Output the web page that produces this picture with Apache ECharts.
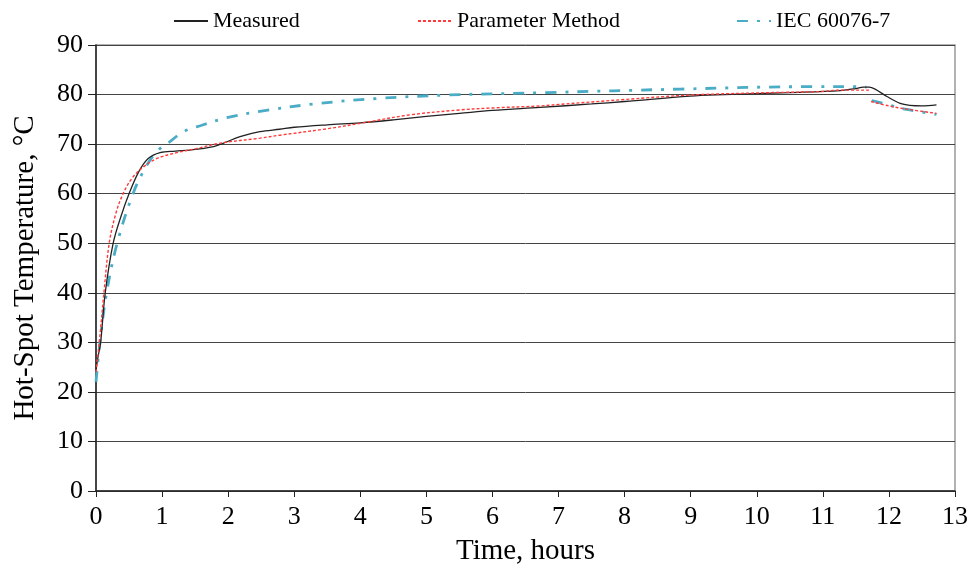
<!DOCTYPE html>
<html>
<head>
<meta charset="utf-8">
<script src="https://cdn.jsdelivr.net/npm/echarts@6/dist/echarts.min.js"></script>
<style>
  html, body { margin: 0; padding: 0; background: #fff; }
  #myChart { width: 972px; height: 571px; }
</style>
</head>
<body>
<div id="myChart"></div>
<script>
// values (hours, °C); '-' breaks the line
const measuredHours = [0, 0.03, 0.07, 0.14, 0.26, 0.38, 0.5, 0.65, 0.79, 0.97, 1.2, 1.42, 1.78, 1.93, 2.18, 2.48, 2.78, 3.0, 3.5, 4.0, 4.5, 5.0, 5.5, 6.0, 6.72, 7.5, 8.0, 8.99, 9.5, 10.0, 10.5, 11.26, 11.5, 11.61, 11.7, 11.79, 11.97, 12.17, 12.32, 12.5, 12.72]
const measuredTemp = [24.4, 27, 30, 40, 50, 55.5, 60, 64.5, 67.1, 68.3, 68.6, 68.8, 69.5, 70.2, 71.5, 72.5, 73.0, 73.4, 73.9, 74.3, 74.9, 75.6, 76.2, 76.8, 77.4, 78.1, 78.6, 79.7, 80.0, 80.2, 80.4, 80.8, 81.2, 81.5, 81.5, 81.1, 79.6, 78.2, 77.8, 77.7, 77.9]

const paramHours = [0, 0.05, 0.12, 0.2, 0.3, 0.41, 0.55, 0.72, 0.92, 1.2, 1.52, 1.88, 2.48, 2.78, 3.5, 4.0, 4.75, 5.51, 6.0, 6.72, 7.0, 8.0, 8.99, 10.25, 10.96, 11.26, 11.71, 11.72, 11.73, 12.0, 12.3, 12.72]
const paramTemp = [24, 30, 40, 50, 56, 60, 63.2, 65.4, 67.1, 68.2, 69.1, 70.2, 71.2, 71.8, 73.1, 74.2, 75.9, 76.9, 77.3, 77.7, 78.0, 79.0, 79.9, 80.4, 80.6, 80.9, 80.9, '-', 78.6, 77.7, 77.0, 76.2]

const iecHours = [0, 0.06, 0.16, 0.32, 0.56, 0.75, 0.92, 1.12, 1.32, 1.6, 2.0, 2.53, 3.29, 4.25, 5.31, 6.82, 8.84, 10.86, 11.41, 11.66, 11.7, 11.74, 12.0, 12.27, 12.72]
const iecTemp = [22, 30, 40, 50, 60, 65.3, 68.5, 70.5, 72.5, 73.8, 75.4, 76.7, 78.1, 79.2, 79.9, 80.4, 81.1, 81.6, 81.6, 81.5, '-', 78.8, 77.9, 77.0, 76.0]

const pairs = (xs, ys) => xs.map((x, i) => [x, ys[i]])

const font = 'Liberation Serif'

const option = {
  animation: false,
  backgroundColor: '#fff',
  legend: [
    { data: ['Measured'], left: 168, top: 5 },
    { data: ['Parameter Method'], left: 412, top: 5 },
    { data: ['IEC 60076-7'], left: 731, top: 5 }
  ].map(l => Object.assign(l, {
    itemWidth: 34,
    itemHeight: 12,
    itemGap: 6,
    itemStyle: { opacity: 0 },
    textStyle: { fontFamily: font, fontSize: 22, color: '#000' }
  })),
  grid: {
    left: 96,
    right: 17,
    top: 45,
    bottom: 80,
    show: true,
    borderColor: '#999',
    borderWidth: 1.5
  },
  xAxis: {
    type: 'value',
    min: 0,
    max: 13,
    interval: 1,
    name: 'Time, hours',
    nameLocation: 'middle',
    nameGap: 46,
    nameTextStyle: { fontFamily: font, fontSize: 29, color: '#000' },
    axisLine: { lineStyle: { color: '#222', width: 1.5 } },
    axisTick: { show: true, length: 6, lineStyle: { color: '#222' } },
    axisLabel: { fontFamily: font, fontSize: 26, color: '#000', margin: 13 },
    splitLine: { show: false }
  },
  yAxis: {
    type: 'value',
    min: 0,
    max: 90,
    interval: 10,
    name: 'Hot-Spot Temperature, °C',
    nameLocation: 'middle',
    nameGap: 56,
    nameTextStyle: { fontFamily: font, fontSize: 29, color: '#000' },
    axisLine: { show: true, lineStyle: { color: '#222', width: 1.5 } },
    axisTick: { show: true, length: 8, lineStyle: { color: '#222' } },
    axisLabel: { fontFamily: font, fontSize: 26, color: '#000', margin: 13 },
    splitLine: { lineStyle: { color: '#444', width: 1 } }
  },
  series: [
    {
      name: 'Measured',
      type: 'line',
      data: pairs(measuredHours, measuredTemp),
      showSymbol: false,
      symbol: 'none',
      smooth: 0.35,
      lineStyle: { color: '#222', width: 1.3 },
      itemStyle: { color: '#222' },
      z: 3
    },
    {
      name: 'Parameter Method',
      type: 'line',
      data: pairs(paramHours, paramTemp),
      showSymbol: false,
      symbol: 'none',
      smooth: 0.35,
      lineStyle: { color: '#ff3b3b', width: 1.4, type: [3, 2] },
      itemStyle: { color: '#ff3b3b' },
      z: 4
    },
    {
      name: 'IEC 60076-7',
      type: 'line',
      data: pairs(iecHours, iecTemp),
      showSymbol: false,
      symbol: 'none',
      smooth: 0.35,
      lineStyle: { color: '#4bacc6', width: 2.8, type: [11, 9, 3, 9] },
      itemStyle: { color: '#4bacc6' },
      z: 2
    }
  ]
}

const myChart = echarts.init(document.getElementById('myChart'))
myChart.setOption(option)
</script>
</body>
</html>
